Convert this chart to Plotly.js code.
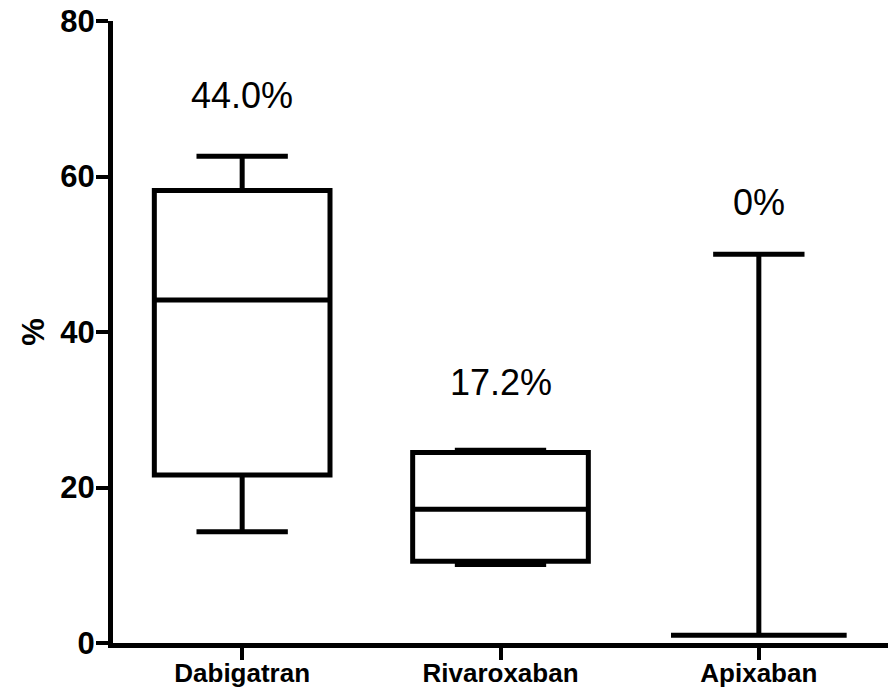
<!DOCTYPE html>
<html>
<head>
<meta charset="utf-8">
<script src="https://cdn.plot.ly/plotly-3.0.1.min.js"></script>
<style>html,body{margin:0;padding:0;background:#fff;}#chart{width:888px;height:691px;}</style>
</head>
<body>
<div id="chart"></div>
<script>
const categories = ["Dabigatran", "Rivaroxaban", "Apixaban"];
const lowerWhisker = [14.3, 10.1, 1.0];
const q1Values = [21.6, 10.5, 1.0];
const medianValues = [44.1, 17.2, 1.0];
const q3Values = [58.2, 24.5, 1.0];
const upperWhisker = [62.6, 24.8, 50.0];
const medianLabels = ["44.0%", "17.2%", "0%"];
const labelY = [70.4, 33.5, 56.6];
const yTicks = [0, 20, 40, 60, 80];

const FONT = "Liberation Sans, Arial, sans-serif";

const trace = {
  type: "box",
  x: categories,
  lowerfence: lowerWhisker,
  q1: q1Values,
  median: medianValues,
  q3: q3Values,
  upperfence: upperWhisker,
  width: 0.68,
  whiskerwidth: 0.52,
  fillcolor: "#ffffff",
  line: {color: "#000000", width: 5},
  boxpoints: false,
  hoverinfo: "skip"
};

const annotations = categories.map((c, i) => ({
  x: c, y: labelY[i], xref: "x", yref: "y",
  text: medianLabels[i], showarrow: false,
  xanchor: "center", yanchor: "middle",
  font: {family: FONT, size: 36, color: "#000"}
}));

const layout = {
  width: 888, height: 691,
  margin: {l: 113, r: 0, t: 21, b: 48},
  paper_bgcolor: "#fff", plot_bgcolor: "#fff",
  showlegend: false,
  font: {family: FONT, color: "#000"},
  xaxis: {
    type: "category",
    categoryarray: categories,
    range: [-0.5, 2.5],
    showline: true, linecolor: "#000", linewidth: 5,
    ticks: "outside", ticklen: 12, tickwidth: 4, tickcolor: "#000",
    ticklabelstandoff: -9,
    showgrid: false, zeroline: false,
    tickfont: {family: FONT, size: 26, color: "#000", weight: "bold"}
  },
  yaxis: {
    range: [0, 80],
    tickvals: yTicks,
    showline: true, linecolor: "#000", linewidth: 5,
    ticks: "outside", ticklen: 12, tickwidth: 4, tickcolor: "#000",
    ticklabelstandoff: -5,
    showgrid: false, zeroline: false,
    tickfont: {family: FONT, size: 31, color: "#000", weight: "bold"},
    title: {text: "%", standoff: 8, font: {family: FONT, size: 31, color: "#000", weight: "bold"}}
  },
  annotations: annotations
};

Plotly.newPlot("chart", [trace], layout, {displayModeBar: false, staticPlot: true});
</script>
</body>
</html>
